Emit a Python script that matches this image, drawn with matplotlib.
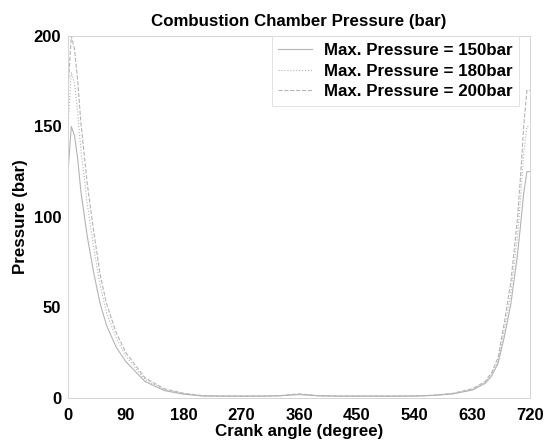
import matplotlib
matplotlib.use("Agg")
import matplotlib.pyplot as plt

plt.rcParams['font.family'] = ['Liberation Sans', 'DejaVu Sans']
plt.rcParams['font.weight'] = 'bold'

crank_angle = [0, 5, 10, 15, 20, 30, 40, 50, 60, 75, 90, 120, 150, 180, 210, 240,
               270, 300, 330, 360, 390, 420, 450, 480, 510, 540, 570, 600, 630,
               650, 660, 670, 680, 690, 700, 705, 710, 715, 720]
p_150 = [125, 150, 145, 132, 114, 89, 69, 52, 40, 28, 20, 9, 4, 2, 1, 0.9,
         0.9, 0.9, 1.1, 1.8, 1.1, 0.9, 0.9, 0.9, 0.9, 1, 1.3, 2.2, 4.3,
         8, 12, 19, 34, 52, 78, 95, 113, 125, 125]
p_180 = [150, 180, 174, 158, 137, 107, 83, 62, 47, 33, 23, 10, 4.5, 2.3, 1.1, 1,
         1, 1, 1.2, 2, 1.2, 1, 1, 1, 1, 1, 1.4, 2.3, 4.6,
         8.5, 13, 20, 38, 58, 88, 110, 135, 150, 150]
p_200 = [170, 200, 193, 175, 152, 118, 92, 68, 52, 36, 25, 11, 5, 2.5, 1.2, 1,
         1, 1, 1.2, 2.2, 1.2, 1, 1, 1, 1, 1, 1.5, 2.5, 5,
         9, 14, 22, 42, 64, 98, 122, 150, 170, 170]
series_labels = ['Max. Pressure = 150bar', 'Max. Pressure = 180bar', 'Max. Pressure = 200bar']
x_ticks = [0, 90, 180, 270, 360, 450, 540, 630, 720]
y_ticks = [0, 50, 100, 150, 200]

fig = plt.figure(figsize=(5.58, 4.45), dpi=100)
ax = fig.add_axes([0.122, 0.106, 0.828, 0.813])

styles = ['-', ':', '--']
for vals, lab, ls in zip([p_150, p_180, p_200], series_labels, styles):
    ax.plot(crank_angle, vals, ls, color='#b4b4b4', linewidth=0.8, label=lab)

ax.set_xlim(0, 720)
ax.set_ylim(0, 200)
ax.set_xticks(x_ticks)
ax.set_yticks(y_ticks)
ax.tick_params(axis='both', length=0, labelsize=12)
ax.tick_params(axis='x', pad=7)
ax.tick_params(axis='y', pad=5)
for s in ax.spines.values():
    s.set_color('#d4d4d4')
    s.set_linewidth(0.7)

ax.set_title('Combustion Chamber Pressure (bar)', fontsize=12.2, fontweight='bold', pad=7)
ax.set_xlabel('Crank angle (degree)', fontsize=12.2, fontweight='bold', labelpad=1)
ax.set_ylabel('Pressure (bar)', fontsize=12.2, fontweight='bold', labelpad=4)

leg = ax.legend(loc='upper right', bbox_to_anchor=(0.977, 1.0), fontsize=12.2,
                frameon=True, fancybox=False, labelspacing=0.34, borderaxespad=0,
                handlelength=2.0, handletextpad=0.7, borderpad=0.4)
leg.get_frame().set_edgecolor('#dcdcdc')
leg.get_frame().set_linewidth(0.7)
for t in leg.get_texts():
    t.set_fontweight('bold')

fig.savefig('out.png', dpi=100)
